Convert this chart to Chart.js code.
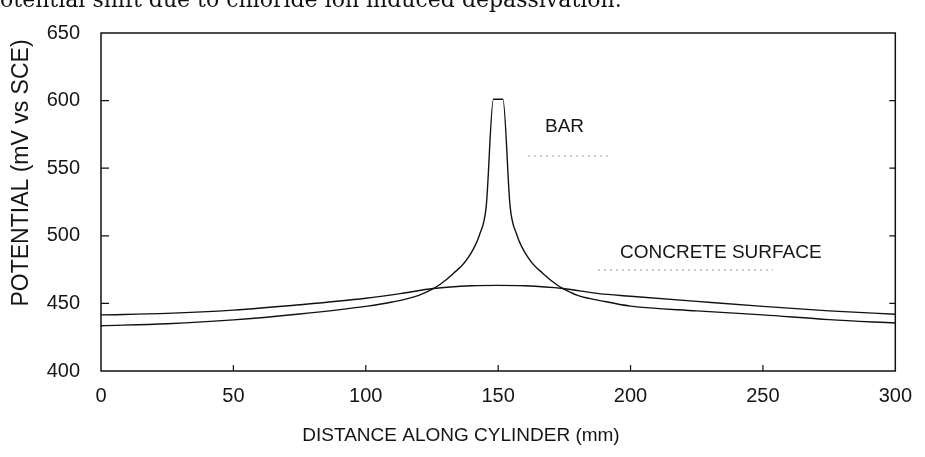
<!DOCTYPE html>
<html>
<head>
    <title>Potential vs distance</title>
    <script src="https://cdn.jsdelivr.net/npm/chart.js"></script>
    <style>
        body { margin: 0; background: #fff; }
        #wrap { position: relative; width: 925px; height: 457px; overflow: hidden; }
        #caption { position: absolute; left: -14px; top: -11px; font: 22px "DejaVu Serif", serif; line-height: 22px; color: #111; white-space: nowrap; }
        canvas { position: absolute; left: 0; top: 0; }
    </style>
</head>
<body>
<div id="wrap">
    <canvas id="potChart" width="925" height="457"></canvas>
    <div id="caption">potential shift due to chloride ion induced depassivation.</div>
</div>

<script>
    // distance along cylinder (mm) and potential (mV vs SCE)
    const surfaceX  = [0, 25, 50, 75, 100, 113, 125.5, 140, 150, 160, 174.5, 188, 200, 225, 250, 275, 300];
    const surfaceMv = [441.5, 442.6, 445, 449, 453.8, 457.2, 461, 463, 463.3, 463, 461, 457.2, 455.3, 451.5, 447.8, 444.5, 442];

    const barX  = [0, 25, 50, 75, 100, 110, 120, 125.5, 128, 133, 138, 143, 145.5, 148.2, 151.8, 154.5, 157, 162, 167, 172, 174.5, 180, 190, 200, 225, 250, 275, 300];
    const barMv = [433.5, 435, 437.8, 442.2, 447.8, 451, 456, 461, 464, 472, 482, 501, 522, 601, 601, 522, 501, 482, 472, 464, 461, 456, 451.5, 448, 444.5, 441.5, 438, 435.5];

    const yTicks = [400, 450, 500, 550, 600, 650];
    const xTicks = [0, 50, 100, 150, 200, 250, 300];

    const txt = '#151515';
    const sans = '"Liberation Sans", Arial, sans-serif';

    function pairs(xs, ys) {
        return xs.map((x, i) => ({ x: x, y: ys[i] }));
    }

    // box, inward ticks, axis titles and curve labels
    const decor = {
        id: 'decor',
        afterDraw(chart) {
            const ctx = chart.ctx;
            const a = chart.chartArea;
            const xs = chart.scales.x, ys = chart.scales.y;
            ctx.save();
            ctx.strokeStyle = '#111';
            ctx.lineWidth = 1.5;
            ctx.strokeRect(a.left, a.top, a.right - a.left, a.bottom - a.top);

            ctx.lineWidth = 1.2;
            ctx.beginPath();
            yTicks.slice(1, -1).forEach(v => {
                const py = ys.getPixelForValue(v);
                ctx.moveTo(a.left, py); ctx.lineTo(a.left + 8, py);
                ctx.moveTo(a.right, py); ctx.lineTo(a.right - 6, py);
            });
            xTicks.slice(1, -1).forEach(v => {
                const px = xs.getPixelForValue(v);
                ctx.moveTo(px, a.bottom); ctx.lineTo(px, a.bottom - 6);
            });
            ctx.stroke();

            ctx.fillStyle = txt;
            ctx.textBaseline = 'middle';
            ctx.textAlign = 'center';
            ctx.font = '19px ' + sans;
            ctx.fillText('DISTANCE ALONG CYLINDER (mm)', 461, 436);

            ctx.save();
            ctx.translate(22, 173);
            ctx.rotate(-Math.PI / 2);
            ctx.font = '23px ' + sans;
            ctx.fillText('POTENTIAL (mV vs SCE)', 0, 0);
            ctx.restore();

            ctx.textAlign = 'left';
            ctx.font = '19px ' + sans;
            ctx.fillText('BAR', 545, 127);
            ctx.fillText('CONCRETE SURFACE', 620, 253);

            // faint dotted leaders under the labels
            ctx.strokeStyle = '#999';
            ctx.lineWidth = 1;
            ctx.setLineDash([2, 4]);
            ctx.beginPath();
            ctx.moveTo(528, 156); ctx.lineTo(612, 156);
            ctx.moveTo(598, 270); ctx.lineTo(773, 270);
            ctx.stroke();
            ctx.restore();
        }
    };

    const ctx = document.getElementById('potChart').getContext('2d');
    const chart = new Chart(ctx, {
        type: 'line',
        data: {
            datasets: [
                { label: 'CONCRETE SURFACE', data: pairs(surfaceX, surfaceMv) },
                { label: 'BAR', data: pairs(barX, barMv) }
            ]
        },
        options: {
            responsive: false,
            animation: false,
            layout: { padding: { top: 14, right: 29, left: 0, bottom: 0 } },
            elements: {
                line: { borderColor: '#111', borderWidth: 1.4, cubicInterpolationMode: 'monotone', fill: false },
                point: { radius: 0 }
            },
            plugins: {
                legend: { display: false },
                tooltip: { enabled: false }
            },
            scales: {
                x: {
                    type: 'linear',
                    min: 0, max: 300,
                    afterFit: s => { s.height = 86; },
                    afterBuildTicks: s => { s.ticks = xTicks.map(v => ({ value: v })); },
                    grid: { display: false, drawTicks: false },
                    border: { display: false },
                    ticks: { color: txt, padding: 13, maxRotation: 0, font: { family: sans, size: 20 } }
                },
                y: {
                    min: 400, max: 650,
                    afterFit: s => { s.width = 101; },
                    afterBuildTicks: s => { s.ticks = yTicks.map(v => ({ value: v })); },
                    grid: { display: false, drawTicks: false },
                    border: { display: false },
                    ticks: { color: txt, padding: 21, font: { family: sans, size: 20 } }
                }
            }
        },
        plugins: [decor]
    });
</script>
</body>
</html>
